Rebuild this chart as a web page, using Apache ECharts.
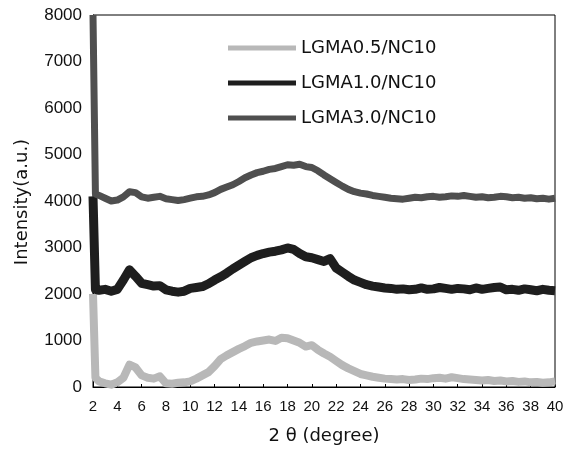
<!DOCTYPE html>
<html><head><meta charset="utf-8">
<script src="https://cdn.jsdelivr.net/npm/echarts@6/dist/echarts.min.js"></script>
<style>html,body{margin:0;padding:0;background:#fff}#c{width:571px;height:450px}</style>
</head><body><div id="c"></div>
<script>
const xValues = [2, 2.2, 2.5, 3, 3.5, 4, 4.5, 5, 5.5, 6, 6.5, 7, 7.5, 8, 8.5, 9, 9.5, 10, 10.5, 11, 11.5, 12, 12.5, 13, 13.5, 14, 14.5, 15, 15.5, 16, 16.5, 17, 17.5, 18, 18.5, 19, 19.5, 20, 20.5, 21, 21.5, 22, 22.5, 23, 23.5, 24, 24.5, 25, 25.5, 26, 26.5, 27, 27.5, 28, 28.5, 29, 29.5, 30, 30.5, 31, 31.5, 32, 32.5, 33, 33.5, 34, 34.5, 35, 35.5, 36, 36.5, 37, 37.5, 38, 38.5, 39, 39.5, 40];
const lgma05 = [2000, 200, 120, 80, 50, 100, 200, 480, 420, 250, 200, 180, 230, 80, 70, 90, 100, 120, 180, 250, 320, 450, 600, 680, 750, 820, 880, 950, 980, 1000, 1020, 990, 1060, 1050, 1000, 950, 870, 900, 800, 720, 650, 560, 470, 400, 340, 280, 250, 220, 200, 180, 170, 160, 170, 150, 160, 180, 170, 190, 200, 180, 210, 190, 170, 160, 150, 140, 150, 130, 140, 120, 130, 110, 120, 100, 110, 90, 100, 120];
const lgma10 = [4100, 2100, 2080, 2100, 2060, 2100, 2300, 2520, 2380, 2230, 2200, 2170, 2180, 2090, 2060, 2040, 2060, 2120, 2140, 2160, 2220, 2300, 2370, 2450, 2540, 2620, 2700, 2780, 2830, 2870, 2900, 2920, 2950, 2990, 2960, 2870, 2800, 2780, 2740, 2700, 2760, 2560, 2470, 2380, 2300, 2250, 2200, 2170, 2150, 2130, 2120, 2100, 2110, 2090, 2100, 2130, 2100, 2110, 2140, 2120, 2100, 2120, 2110, 2090, 2130, 2100, 2120, 2140, 2150, 2090, 2100, 2080, 2110, 2090, 2070, 2100, 2080, 2070];
const lgma30 = [8000, 4150, 4120, 4060, 4000, 4020, 4090, 4200, 4180, 4090, 4060, 4080, 4100, 4050, 4030, 4010, 4030, 4060, 4090, 4100, 4130, 4180, 4250, 4300, 4350, 4420, 4500, 4560, 4610, 4640, 4680, 4700, 4740, 4780, 4770, 4790, 4740, 4720, 4650, 4560, 4480, 4400, 4320, 4250, 4200, 4170, 4150, 4120, 4100, 4080, 4060, 4050, 4040, 4060, 4080, 4070, 4090, 4100, 4080, 4090, 4110, 4100, 4120, 4100, 4080, 4090, 4070, 4080, 4100, 4090, 4070, 4080, 4060, 4070, 4050, 4060, 4040, 4060];
const seriesNames = ['LGMA0.5/NC10', 'LGMA1.0/NC10', 'LGMA3.0/NC10'];
const xTicks = [2, 40, 2];
const yTicks = [0, 8000, 1000];

const pair = arr => xValues.map((x, i) => [x, arr[i]]);
const font = '"Liberation Sans", Arial, sans-serif';
const wide = '"DejaVu Sans", sans-serif';
const chart = echarts.init(document.getElementById('c'), null, {renderer: 'canvas'});
const styles = [
  {color: '#b8b8b8', width: 8},
  {color: '#1e1e1e', width: 9},
  {color: '#4f4f4f', width: 7}
];
const allData = [lgma05, lgma10, lgma30];
chart.setOption({
  animation: false,
  backgroundColor: '#fff',
  grid: {left: 93, right: 16, top: 15, bottom: 60, show: true, borderColor: '#000', borderWidth: 1},
  legend: {
    orient: 'vertical', left: 228, top: 38, padding: 0, itemWidth: 68, itemHeight: 5, itemGap: 15, icon: 'rect',
    textStyle: {fontFamily: wide, fontSize: 18, color: '#111', lineHeight: 20}
  },
  xAxis: {
    type: 'value', min: xTicks[0], max: xTicks[1], interval: xTicks[2],
    name: '2 θ (degree)', nameLocation: 'middle', nameGap: 40,
    nameTextStyle: {fontFamily: wide, fontSize: 18, color: '#111'},
    axisLine: {show: true, lineStyle: {color: '#000', width: 1}},
    axisTick: {show: true, inside: true, length: 3, lineStyle: {color: '#000'}},
    axisLabel: {fontFamily: font, fontSize: 15, color: '#111', margin: 12},
    splitLine: {show: false}
  },
  yAxis: {
    type: 'value', min: yTicks[0], max: yTicks[1], interval: yTicks[2],
    axisLine: {show: true, lineStyle: {color: '#000', width: 1}},
    axisTick: {show: false},
    axisLabel: {fontFamily: font, fontSize: 17, color: '#111', margin: 11, formatter: v => String(v)},
    splitLine: {show: false}
  },
  graphic: [{
    type: 'text', x: 22, y: 202, rotation: Math.PI / 2,
    style: {text: 'Intensity(a.u.)', font: '18px ' + wide, fill: '#111', textAlign: 'center', textVerticalAlign: 'middle'}
  }],
  series: seriesNames.map((n, k) => ({
    name: n, type: 'line', data: pair(allData[k]), showSymbol: false, symbol: 'none',
    color: styles[k].color,
    lineStyle: {color: styles[k].color, width: styles[k].width, join: 'round'},
    clip: true
  }))
});
</script></body></html>
